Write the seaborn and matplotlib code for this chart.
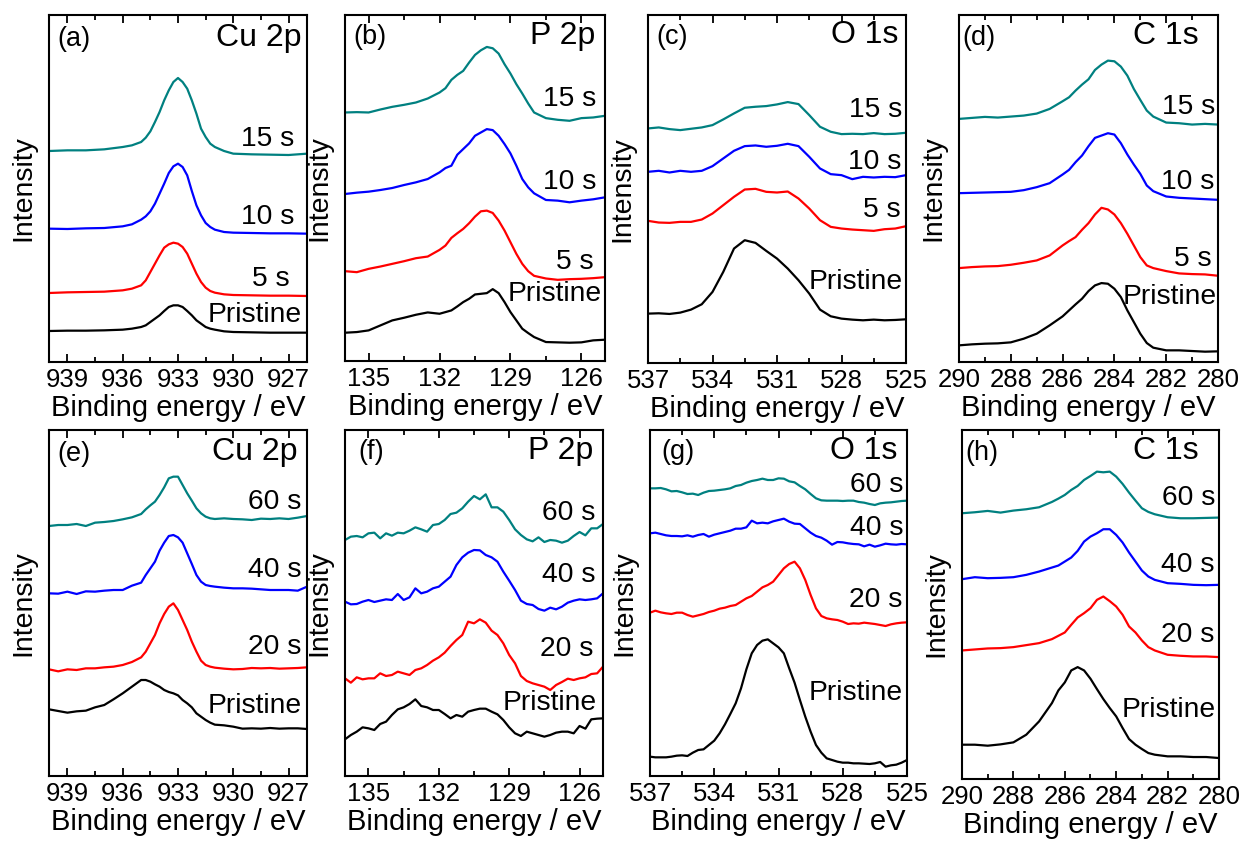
import matplotlib
matplotlib.use("Agg")
import matplotlib.pyplot as plt
from matplotlib.ticker import MultipleLocator
import pandas as pd
import seaborn as sns

# ---------------- spectra (binding energy in eV, intensity in a.u., offset stacked) ----------------
# Cu 2p, short etching series
CU_E_SHORT = [940, 939, 938, 937, 936, 935.5, 935, 934.75, 934.5, 934.25, 934, 933.75, 933.5,
              933.25, 933, 932.75, 932.5, 932.25, 932, 931.75, 931.5, 931.25, 931, 930.5, 930,
              929, 928, 927, 926]
CU_SHORT_PRISTINE = [9.3, 9.4, 9.4, 9.5, 9.7, 10.0, 10.5, 11.0, 12.0, 13.0, 14.0, 15.3, 16.5,
                     17.0, 17.0, 16.5, 15.3, 14.0, 12.5, 11.5, 10.5, 10.0, 9.7, 9.2, 9.0, 8.9,
                     8.8, 8.8, 8.8]
CU_SHORT_5S = [20.7, 20.9, 21.0, 21.1, 21.5, 22.0, 23.0, 24.5, 27.0, 29.5, 32.0, 34.3, 35.3,
               35.8, 35.5, 34.5, 32.5, 29.5, 26.5, 24.0, 22.3, 21.3, 20.8, 20.3, 20.1, 20.0,
               19.9, 19.9, 19.8]
CU_SHORT_10S = [40.0, 39.9, 40.1, 40.2, 40.7, 41.3, 42.7, 43.7, 45.2, 47.5, 50.5, 53.5, 56.7,
                58.7, 59.5, 58.5, 56.0, 51.3, 47.0, 44.0, 41.7, 40.5, 39.7, 39.0, 38.8, 38.7,
                38.6, 38.6, 38.5]
CU_SHORT_15S = [63.3, 63.5, 63.5, 63.8, 64.5, 65.0, 66.0, 67.3, 69.2, 72.0, 75.0, 78.5, 81.5,
                84.0, 85.2, 84.0, 82.0, 78.5, 74.5, 70.0, 67.5, 65.5, 64.5, 63.3, 62.5, 62.3,
                62.2, 62.1, 62.5]

# P 2p, short etching series
P_E_SHORT = [136, 135.5, 135, 134.5, 134, 133.5, 133, 132.5, 132, 131.75, 131.5, 131.25, 131,
             130.75, 130.5, 130.25, 130, 129.75, 129.5, 129.25, 129, 128.75, 128.5, 128.25,
             128, 127.5, 127, 126.5, 126, 125.5, 125]
P_SHORT_PRISTINE = [8.5, 8.7, 9.2, 10.7, 12.2, 13.0, 13.9, 14.6, 14.2, 14.7, 15.2, 16.4, 17.7,
                    18.7, 20.0, 20.2, 20.4, 21.6, 20.4, 17.7, 14.7, 12.2, 9.7, 8.4, 7.2, 5.7,
                    5.6, 5.5, 5.6, 6.2, 6.4]
P_SHORT_5S = [27.0, 26.7, 27.7, 28.4, 29.2, 30.0, 30.9, 31.4, 33.4, 34.7, 37.0, 38.4, 39.7,
              41.4, 43.4, 45.0, 45.2, 44.5, 42.2, 39.2, 35.7, 32.2, 29.2, 27.0, 25.6, 24.8,
              24.4, 24.6, 24.7, 24.9, 25.2]
P_SHORT_10S = [50.2, 50.6, 50.9, 51.4, 52.0, 52.9, 53.7, 54.7, 56.7, 58.0, 58.7, 62.0, 63.7,
               65.4, 67.7, 68.7, 69.7, 69.4, 67.7, 65.2, 62.4, 58.7, 54.7, 52.2, 50.4, 48.4,
               48.2, 47.7, 48.2, 48.6, 49.2]
P_SHORT_15S = [74.7, 74.8, 74.7, 75.6, 76.4, 77.0, 77.7, 78.9, 80.7, 82.0, 84.5, 86.0, 87.2,
               89.7, 92.0, 93.4, 94.4, 94.0, 92.4, 89.2, 86.4, 83.2, 80.4, 77.4, 74.7, 73.0,
               72.5, 72.2, 73.0, 73.2, 73.7]

# O 1s, short etching series
O_E_SHORT = [537, 536.5, 536, 535.5, 535, 534.5, 534, 533.5, 533, 532.5, 532, 531.5, 531,
             530.5, 530, 529.5, 529, 528.5, 528, 527.5, 527, 526.5, 526, 525.5, 525]
O_SHORT_PRISTINE = [14.8, 14.9, 14.7, 15.1, 16.0, 17.6, 21.3, 27.3, 34.3, 36.8, 36.0, 33.6, 31.3,
                    28.3, 24.8, 20.8, 16.0, 14.0, 13.3, 13.0, 12.8, 13.0, 12.8, 12.9, 13.1]
O_SHORT_5S = [42.6, 42.1, 42.0, 42.3, 42.3, 43.0, 44.8, 47.3, 49.8, 52.0, 52.2, 51.3, 51.1,
              51.4, 49.3, 46.3, 42.8, 40.8, 40.3, 40.0, 39.8, 39.6, 40.1, 40.3, 41.0]
O_SHORT_10S = [57.3, 57.6, 57.1, 57.6, 57.3, 57.6, 59.0, 61.3, 63.6, 65.0, 65.2, 64.8, 65.1,
               65.7, 65.0, 61.8, 58.3, 56.6, 56.3, 55.1, 55.8, 55.6, 55.8, 55.7, 56.3]
O_SHORT_15S = [70.3, 70.6, 70.1, 69.8, 70.2, 70.6, 71.3, 73.0, 74.8, 76.5, 76.8, 77.0, 77.5,
               78.2, 77.6, 74.3, 70.8, 69.3, 68.6, 68.7, 68.6, 68.9, 68.6, 68.7, 69.0]

# C 1s, short etching series
C_E_SHORT = [290, 289.5, 289, 288.5, 288, 287.5, 287, 286.5, 286, 285.75, 285.5, 285.25, 285,
             284.75, 284.5, 284.25, 284, 283.75, 283.5, 283.25, 283, 282.75, 282.5, 282,
             281.5, 281, 280.5, 280]
C_SHORT_PRISTINE = [5.0, 5.3, 5.5, 5.6, 5.9, 7.0, 8.5, 11.0, 13.7, 15.5, 17.3, 19.0, 21.3, 23.0,
                    23.7, 23.5, 22.0, 19.5, 15.5, 12.0, 8.5, 5.7, 4.3, 3.5, 3.5, 3.3, 3.1, 3.2]
C_SHORT_5S = [28.2, 28.5, 28.7, 28.8, 29.2, 29.8, 30.5, 32.0, 35.0, 36.3, 37.5, 39.7, 41.7,
              44.3, 46.3, 45.8, 44.3, 41.7, 38.5, 35.0, 31.5, 29.0, 28.2, 27.3, 26.6, 26.4,
              26.3, 25.9]
C_SHORT_10S = [50.7, 50.8, 50.9, 51.0, 51.1, 51.6, 52.5, 53.7, 56.3, 57.7, 60.0, 62.0, 64.8,
               67.3, 68.0, 68.7, 68.3, 65.7, 62.3, 59.3, 56.5, 53.0, 51.3, 49.7, 49.3, 49.1,
               48.9, 48.7]
C_SHORT_15S = [73.0, 73.3, 73.6, 73.4, 73.7, 74.0, 74.6, 76.0, 78.3, 79.5, 81.5, 83.3, 84.9,
               87.7, 89.3, 90.5, 90.3, 88.7, 86.0, 82.0, 78.7, 75.5, 73.7, 71.9, 71.7, 71.3,
               71.5, 71.3]

# Cu 2p, long etching series
CU_E_LONG = [940, 939.5, 939, 938.5, 938, 937.5, 937, 936.5, 936, 935.5, 935, 934.75, 934.5,
             934.25, 934, 933.75, 933.5, 933.25, 933, 932.75, 932.5, 932.25, 932, 931.75,
             931.5, 931.25, 931, 930.5, 930, 929.5, 929, 928.5, 928, 927.5, 927, 926.5, 926]
CU_LONG_PRISTINE = [20.0, 19.5, 19.0, 19.4, 19.6, 20.6, 21.3, 23.0, 24.8, 26.8, 28.8, 28.8, 28.3,
                    27.5, 26.8, 25.8, 25.2, 24.8, 24.2, 22.8, 21.8, 20.6, 18.8, 17.8, 16.8, 16.0,
                    15.4, 15.2, 14.8, 14.2, 14.3, 14.2, 14.4, 14.2, 14.3, 14.3, 14.1]
CU_LONG_20S = [32.0, 31.4, 32.0, 31.8, 32.3, 32.3, 32.6, 32.8, 33.3, 34.2, 35.6, 37.3, 39.8,
               42.3, 45.8, 48.6, 50.8, 51.8, 49.8, 46.8, 43.8, 40.3, 37.3, 34.6, 33.3, 32.8,
               32.5, 32.2, 32.0, 32.1, 32.4, 32.3, 32.4, 32.2, 32.3, 32.4, 32.6]
CU_LONG_40S = [54.8, 54.7, 55.3, 54.6, 55.4, 55.3, 55.6, 55.8, 55.8, 57.1, 58.0, 60.3, 62.3,
               64.3, 67.6, 70.0, 72.0, 72.3, 71.6, 70.0, 66.8, 63.6, 60.3, 58.3, 57.3, 57.0,
               56.8, 56.5, 56.3, 56.3, 56.2, 56.0, 55.8, 55.8, 55.8, 55.6, 56.8]
CU_LONG_60S = [75.0, 75.3, 75.3, 75.6, 75.0, 76.0, 76.2, 76.5, 77.0, 77.6, 78.6, 80.0, 81.2,
               82.3, 84.3, 86.6, 89.3, 89.8, 89.8, 87.3, 84.8, 82.6, 80.3, 78.8, 77.8, 77.3,
               77.1, 77.3, 77.1, 77.0, 76.8, 77.2, 77.1, 77.3, 77.1, 77.5, 78.0]

# P 2p, long etching series
P_E_LONG = [136.00, 135.75, 135.50, 135.25, 135.00, 134.75, 134.50, 134.25, 134.00, 133.75,
            133.50, 133.25, 133.00, 132.75, 132.50, 132.25, 132.00, 131.75, 131.50, 131.25,
            131.00, 130.75, 130.50, 130.25, 130.00, 129.75, 129.50, 129.25, 129.00, 128.75,
            128.50, 128.25, 128.00, 127.75, 127.50, 127.25, 127.00, 126.75, 126.50, 126.25,
            126.00, 125.75, 125.50, 125.25, 125.00]
P_LONG_PRISTINE = [11.0, 12.3, 13.3, 14.6, 14.3, 13.8, 15.6, 16.3, 18.3, 20.0, 20.6, 21.6, 23.0,
                   21.0, 20.6, 19.8, 19.8, 18.6, 17.3, 18.3, 17.8, 19.3, 19.8, 20.2, 20.2, 19.3,
                   18.5, 16.8, 14.6, 12.8, 12.0, 13.3, 12.8, 12.3, 11.8, 12.3, 13.0, 13.3, 13.3,
                   12.8, 15.0, 14.2, 17.0, 17.2, 17.3]
P_LONG_20S = [29.3, 28.0, 29.6, 29.0, 29.3, 29.3, 30.8, 30.0, 30.3, 31.3, 30.8, 30.3, 31.8,
              32.3, 33.3, 34.6, 35.6, 37.0, 39.0, 40.8, 42.3, 46.3, 45.8, 47.0, 46.0, 43.6,
              42.3, 39.8, 36.3, 33.8, 30.0, 28.5, 27.8, 27.3, 26.8, 25.8, 27.3, 28.2, 29.2,
              28.8, 29.3, 29.6, 30.6, 30.8, 32.8]
P_LONG_40S = [52.3, 51.5, 51.6, 52.3, 52.8, 52.2, 52.6, 53.0, 52.8, 54.6, 52.8, 53.6, 56.3,
              54.8, 55.3, 56.3, 56.8, 58.3, 59.8, 63.3, 65.6, 67.0, 67.8, 67.7, 66.3, 65.6,
              64.3, 61.3, 58.6, 55.8, 52.6, 51.6, 51.3, 50.1, 49.6, 50.5, 50.0, 50.8, 52.0,
              52.6, 53.0, 52.8, 53.0, 53.3, 54.8]
P_LONG_60S = [70.8, 71.8, 72.0, 71.6, 72.8, 73.0, 71.3, 72.8, 72.1, 73.0, 72.8, 73.6, 74.6,
              74.0, 73.3, 75.3, 75.6, 76.8, 78.6, 79.0, 80.3, 82.3, 84.0, 83.0, 84.5, 80.6,
              80.6, 79.3, 76.8, 74.0, 72.3, 71.0, 70.4, 71.6, 70.2, 70.8, 70.6, 70.0, 70.6,
              72.0, 73.2, 72.2, 74.3, 74.3, 75.6]

# O 1s, long etching series
O_E_LONG = [537.00, 536.75, 536.50, 536.25, 536.00, 535.75, 535.50, 535.25, 535.00, 534.75,
            534.50, 534.25, 534.00, 533.75, 533.50, 533.25, 533.00, 532.75, 532.50, 532.25,
            532.00, 531.75, 531.50, 531.25, 531.00, 530.75, 530.50, 530.25, 530.00, 529.75,
            529.50, 529.25, 529.00, 528.75, 528.50, 528.25, 528.00, 527.75, 527.50, 527.25,
            527.00, 526.75, 526.50, 526.25, 526.00, 525.75, 525.50, 525.25, 525.00]
O_LONG_PRISTINE = [5.8, 5.6, 5.6, 5.6, 5.8, 6.1, 6.2, 6.0, 7.0, 7.8, 8.0, 9.3, 10.6, 12.8, 15.5,
                   18.6, 21.8, 26.3, 32.0, 36.8, 39.3, 40.6, 41.0, 39.8, 38.6, 36.8, 32.3, 28.0,
                   22.8, 17.8, 13.3, 9.3, 7.0, 5.3, 4.8, 4.3, 4.0, 4.0, 3.8, 3.8, 3.7, 3.6, 3.8,
                   4.2, 2.8, 3.2, 3.4, 4.0, 4.8]
O_LONG_20S = [49.0, 49.6, 49.1, 48.8, 48.6, 49.0, 49.0, 48.3, 47.8, 48.2, 48.6, 49.2, 49.6,
              50.2, 50.5, 51.0, 51.3, 52.3, 53.3, 54.0, 55.3, 56.6, 57.3, 58.3, 60.3, 62.3,
              63.6, 64.3, 62.3, 58.8, 54.3, 50.3, 48.0, 47.3, 47.0, 46.8, 46.3, 45.6, 45.8,
              45.7, 46.0, 45.8, 45.6, 45.3, 45.0, 45.5, 45.8, 46.0, 46.1]
O_LONG_40S = [72.8, 73.0, 72.6, 72.2, 72.0, 72.0, 71.9, 72.2, 71.8, 72.3, 72.6, 71.8, 72.4,
              72.8, 73.2, 73.6, 74.2, 74.2, 74.6, 76.6, 75.8, 76.0, 75.8, 76.4, 76.8, 77.2,
              76.3, 75.7, 75.6, 74.3, 73.0, 72.0, 71.5, 70.6, 69.4, 70.2, 70.1, 69.8, 69.6,
              69.5, 68.9, 69.4, 68.8, 69.2, 69.7, 69.5, 69.4, 69.6, 69.5]
O_LONG_60S = [86.3, 86.3, 86.4, 86.0, 85.4, 85.5, 85.1, 84.6, 84.7, 84.3, 85.0, 85.5, 85.6,
              85.8, 86.0, 86.3, 87.0, 87.3, 88.0, 88.5, 88.8, 89.2, 88.8, 88.8, 89.3, 89.2,
              88.4, 88.1, 87.0, 86.0, 84.6, 83.3, 82.7, 82.6, 82.6, 82.6, 82.5, 82.6, 82.6,
              82.2, 82.0, 81.6, 81.3, 81.8, 82.0, 82.1, 82.3, 82.5, 82.6]

# C 1s, long etching series
C_E_LONG = [290, 289.5, 289, 288.5, 288, 287.5, 287, 286.5, 286.25, 286, 285.75, 285.5, 285.25,
            285, 284.75, 284.5, 284.25, 284, 283.75, 283.5, 283.25, 283, 282.75, 282.5, 282,
            281.5, 281, 280.5, 280]
C_LONG_PRISTINE = [10.3, 10.3, 10.0, 10.4, 11.0, 13.3, 17.3, 22.8, 26.6, 29.0, 32.6, 33.6, 32.6,
                   30.1, 27.0, 24.0, 21.3, 18.8, 15.3, 12.0, 10.3, 9.0, 7.8, 7.3, 6.8, 6.8, 6.6,
                   6.6, 6.3]
C_LONG_20S = [38.6, 38.9, 39.2, 39.3, 39.6, 40.2, 40.8, 42.0, 43.0, 44.0, 46.3, 48.5, 49.8,
              51.3, 53.8, 54.8, 53.4, 51.8, 49.3, 45.8, 44.0, 41.6, 39.6, 38.6, 37.3, 37.0,
              36.8, 36.8, 36.6]
C_LONG_40S = [60.0, 60.6, 60.3, 60.4, 60.6, 61.3, 62.3, 63.5, 64.1, 65.3, 66.5, 68.5, 71.3,
              72.8, 73.8, 75.0, 75.0, 73.3, 71.0, 68.0, 65.3, 62.6, 60.8, 59.8, 58.8, 58.6,
              58.3, 58.2, 58.3]
C_LONG_60S = [79.8, 80.1, 80.5, 80.0, 80.6, 81.0, 81.6, 83.2, 84.2, 85.3, 86.8, 88.0, 89.8,
              91.0, 92.3, 92.1, 92.3, 90.8, 88.6, 86.0, 83.6, 81.3, 80.2, 79.5, 78.6, 78.3,
              78.3, 78.4, 78.5]

SHORT_LABELS = ["Pristine", "5 s", "10 s", "15 s"]
LONG_LABELS = ["Pristine", "20 s", "40 s", "60 s"]
LINE_COLORS = ["#000000", "#ff0000", "#0000ff", "#008080"]

# ---------------- style ----------------
sns.set_theme(style="ticks")
plt.rcParams["font.family"] = ["Liberation Sans", "DejaVu Sans"]
plt.rcParams["axes.linewidth"] = 1.5

W, H = 1245, 841
fig = plt.figure(figsize=(W / 100, H / 100), dpi=100)


def rect(left, right, top, bottom):
    return [left / W, 1 - bottom / H, (right - left) / W, (bottom - top) / H]


panels = [
    # (a)
    dict(rect=rect(49, 307, 15, 362), energy=CU_E_SHORT,
         series=[CU_SHORT_PRISTINE, CU_SHORT_5S, CU_SHORT_10S, CU_SHORT_15S],
         labels=SHORT_LABELS, xlim=(940, 926), ylim=104.1, major=3, minor=1.5,
         letter="(a)", element="Cu 2p", letter_x=0.031, elem_x=0.978, head_y=0.93,
         label_pos=[(926.26, 14.0), (926.94, 25.0), (926.67, 43.5), (926.67, 67.0)]),
    # (b)
    dict(rect=rect(345, 605, 15, 361), energy=P_E_SHORT,
         series=[P_SHORT_PRISTINE, P_SHORT_5S, P_SHORT_10S, P_SHORT_15S],
         labels=SHORT_LABELS, xlim=(136, 125), ylim=104.0, major=3, minor=1.5,
         letter="(b)", element="P 2p", letter_x=0.032, elem_x=0.962, head_y=0.935,
         label_pos=[(125.14, 20.2), (125.5, 29.7), (125.38, 53.7), (125.35, 78.7)]),
    # (c)
    dict(rect=rect(648, 906, 15, 363), energy=O_E_SHORT,
         series=[O_SHORT_PRISTINE, O_SHORT_5S, O_SHORT_10S, O_SHORT_15S],
         labels=SHORT_LABELS, xlim=(537, 525), ylim=104.3, major=3, minor=1.5,
         letter="(c)", element="O 1s", letter_x=0.031, elem_x=0.972, head_y=0.937,
         label_pos=[(525.14, 24.3), (525.26, 45.8), (525.21, 60.3), (525.18, 75.8)]),
    # (d)
    dict(rect=rect(959, 1218, 15, 362), energy=C_E_SHORT,
         series=[C_SHORT_PRISTINE, C_SHORT_5S, C_SHORT_10S, C_SHORT_15S],
         labels=SHORT_LABELS, xlim=(290, 280), ylim=104.2, major=2, minor=1,
         letter="(d)", element="C 1s", letter_x=0.012, elem_x=0.925, head_y=0.935,
         label_pos=[(280.04, 19.5), (280.23, 31.0), (280.13, 54.0), (280.1, 76.5)]),
    # (e)
    dict(rect=rect(49, 307, 430, 776), energy=CU_E_LONG,
         series=[CU_LONG_PRISTINE, CU_LONG_20S, CU_LONG_40S, CU_LONG_60S],
         labels=LONG_LABELS, xlim=(940, 926), ylim=103.8, major=3, minor=1.5,
         letter="(e)", element="Cu 2p", letter_x=0.031, elem_x=0.965, head_y=0.932,
         label_pos=[(926.31, 21.0), (926.31, 38.8), (926.31, 61.8), (926.31, 82.3)]),
    # (f)
    dict(rect=rect(345, 603, 430, 776), energy=P_E_LONG,
         series=[P_LONG_PRISTINE, P_LONG_20S, P_LONG_40S, P_LONG_60S],
         labels=LONG_LABELS, xlim=(136, 125), ylim=103.8, major=3, minor=1.5,
         letter="(f)", element="P 2p", letter_x=0.052, elem_x=0.961, head_y=0.935,
         label_pos=[(125.26, 21.8), (125.43, 38.0), (125.32, 60.3), (125.32, 78.8)]),
    # (g)
    dict(rect=rect(650, 907, 430, 776), energy=O_E_LONG,
         series=[O_LONG_PRISTINE, O_LONG_20S, O_LONG_40S, O_LONG_60S],
         labels=LONG_LABELS, xlim=(537, 525), ylim=103.8, major=3, minor=1.5,
         letter="(g)", element="O 1s", letter_x=0.045, elem_x=0.961, head_y=0.935,
         label_pos=[(525.21, 24.8), (525.21, 52.8), (525.18, 74.3), (525.18, 87.3)]),
    # (h)
    dict(rect=rect(962, 1219, 430, 779), energy=C_E_LONG,
         series=[C_LONG_PRISTINE, C_LONG_20S, C_LONG_40S, C_LONG_60S],
         labels=LONG_LABELS, xlim=(290, 280), ylim=104.8, major=2, minor=1,
         letter="(h)", element="C 1s", letter_x=0.013, elem_x=0.922, head_y=0.935,
         label_pos=[(280.13, 20.8), (280.17, 43.3), (280.17, 64.3), (280.13, 84.3)]),
]

for p in panels:
    ax = fig.add_axes(p["rect"])
    frames = []
    for name, values in zip(p["labels"], p["series"]):
        frames.append(pd.DataFrame({"energy": p["energy"], "intensity": values,
                                    "sample": name}))
    df = pd.concat(frames, ignore_index=True)
    sns.lineplot(data=df, x="energy", y="intensity", hue="sample",
                 hue_order=p["labels"], palette=LINE_COLORS, estimator=None,
                 sort=False, linewidth=1.6, legend=False, ax=ax)

    ax.set_xlim(*p["xlim"])
    ax.set_ylim(0, p["ylim"])
    ax.xaxis.set_major_locator(MultipleLocator(p["major"]))
    ax.xaxis.set_minor_locator(MultipleLocator(p["minor"]))
    ax.tick_params(axis="x", which="both", direction="in", top=True, bottom=True,
                   width=1.3, labelsize=18.5, pad=4, colors="black")
    ax.tick_params(axis="x", which="major", length=6)
    ax.tick_params(axis="x", which="minor", length=3.5)
    ax.tick_params(axis="y", which="both", left=False, right=False, labelleft=False)
    for s in ax.spines.values():
        s.set_visible(True)
        s.set_color("black")
        s.set_linewidth(1.5)

    ax.set_xlabel("Binding energy / eV", fontsize=21, labelpad=2, color="black")
    ax.set_ylabel("Intensity", fontsize=20.5, labelpad=9, color="black")

    ax.text(p["letter_x"], p["head_y"], p["letter"], transform=ax.transAxes,
            ha="left", va="center", fontsize=19.5, color="black")
    ax.text(p["elem_x"], p["head_y"] + 0.005, p["element"], transform=ax.transAxes,
            ha="right", va="center", fontsize=23, color="black")
    for name, (ex, iy) in zip(p["labels"], p["label_pos"]):
        ax.text(ex, iy, name, ha="right", va="center", fontsize=20.3, color="black")

fig.savefig("out.png", dpi=100)
